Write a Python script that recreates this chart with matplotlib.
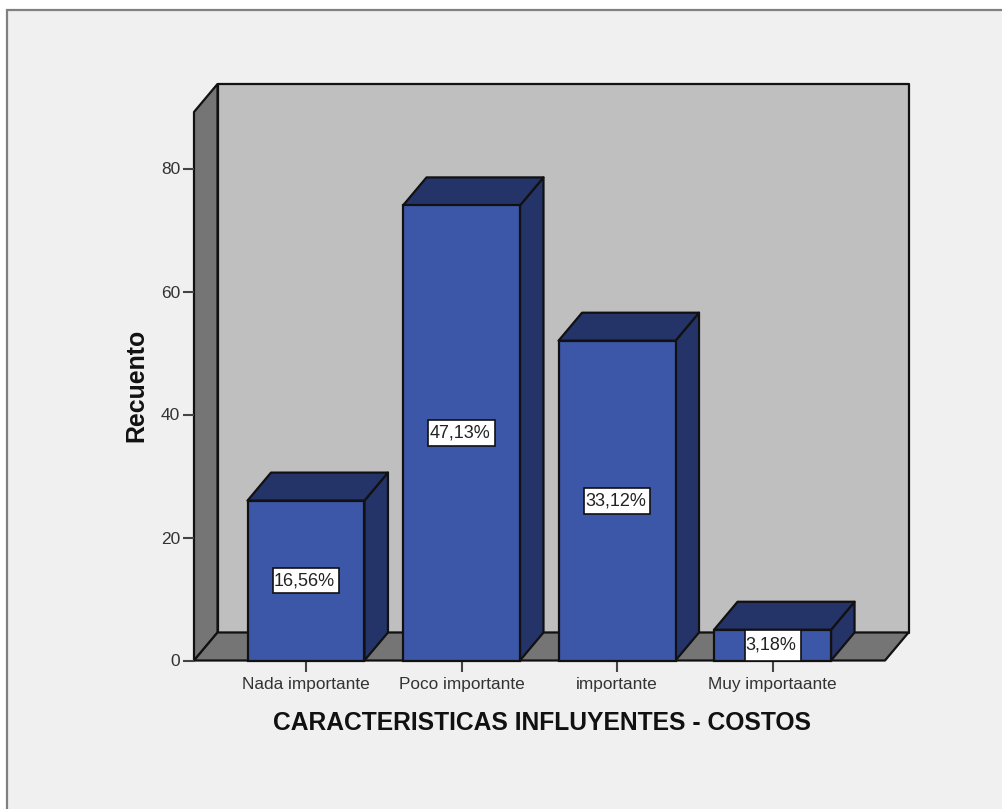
import numpy as np
import matplotlib
matplotlib.use('Agg')
import matplotlib.pyplot as plt
from matplotlib.patches import Polygon, Rectangle

categorias = ['Nada importante', 'Poco importante', 'importante', 'Muy importaante']
recuento = [26, 74, 52, 5]
porcentajes = ['16,56%', '47,13%', '33,12%', '3,18%']
ticks_y = [0, 20, 40, 60, 80]

plt.rcParams['font.family'] = ['Liberation Sans', 'DejaVu Sans']

W, H = 1002, 809
f = plt.figure(figsize=(W / 100, H / 100), dpi=100, facecolor='white')

# marco gris (solo arriba e izquierda se ve)
f.patches.append(Rectangle((7 / W, -0.05), 1, 1.05 - 10 / H, transform=f.transFigure,
                           facecolor='#f0f0f0', edgecolor='#808080', linewidth=1.6, zorder=-5))

ax = f.add_axes([194 / W, 1 - 660.5 / H, (885 - 194) / W, (660.5 - 112) / H])
ax.patch.set_alpha(0)
ymax = (660.5 - 112) / 6.15
ax.set_xlim(-0.72, 3.723)
ax.set_ylim(0, ymax)
for s in ax.spines.values():
    s.set_visible(False)

dx = 23.5 / 155.5
dy = 28 / 6.15
x0, x1 = ax.get_xlim()
negro = '#111111'

def poli(pts, color, z):
    ax.add_patch(Polygon(pts, closed=True, facecolor=color, edgecolor=negro,
                         linewidth=1.6, joinstyle='round', clip_on=False, zorder=z))

# caja 3D: fondo, pared izquierda, piso
poli([(x0 + dx, dy), (x1 + dx, dy), (x1 + dx, ymax + dy), (x0 + dx, ymax + dy)], '#bfbfbf', 1)
poli([(x0, 0), (x0 + dx, dy), (x0 + dx, ymax + dy), (x0, ymax)], '#757575', 1.1)
poli([(x0, 0), (x1, 0), (x1 + dx, dy), (x0 + dx, dy)], '#757575', 1.2)

# barras
ancho = 0.752
pos = np.arange(len(categorias))
for i in pos:
    v = recuento[i]
    a = i - ancho / 2
    b = i + ancho / 2
    poli([(b, 0), (b + dx, dy), (b + dx, v + dy), (b, v)], '#253468', 3)
    poli([(a, v), (b, v), (b + dx, v + dy), (a + dx, v + dy)], '#253468', 3)
ax.bar(pos, recuento, width=ancho, color='#3d57a8', edgecolor=negro, linewidth=1.6,
       zorder=4, clip_on=False)

# etiquetas de porcentaje: caja blanca y texto
for i in pos:
    w_caja = 0.36 if i == 3 else 0.43
    h_caja = recuento[i] if i == 3 else 4.2
    ax.add_patch(Rectangle((i - w_caja / 2, recuento[i] / 2 - h_caja / 2), w_caja, h_caja,
                           facecolor='white', edgecolor=negro, linewidth=1.2, zorder=5))
    ax.text(i - 0.01, recuento[i] / 2, porcentajes[i], ha='center', va='center', fontsize=13,
            color='#222222', zorder=6)

ax.set_xticks(pos)
ax.set_xticklabels(categorias, fontsize=12.4, color='#333333')
ax.set_yticks(ticks_y)
ax.tick_params(axis='x', length=8, width=1.5, color='#444444', pad=4)
ax.tick_params(axis='y', length=8, width=1.5, color='#444444', pad=2, labelsize=12.5,
               labelcolor='#333333')

f.text(542 / W, 1 - 723 / H, 'CARACTERISTICAS INFLUYENTES - COSTOS', ha='center', va='center',
       fontsize=17.7, fontweight='bold', color='#111111')
f.text(136 / W, 1 - 385 / H, 'Recuento', ha='center', va='center', rotation=90,
       fontsize=17.9, fontweight='bold', color='#111111')

f.savefig('out.png', dpi=100, facecolor=f.get_facecolor())
